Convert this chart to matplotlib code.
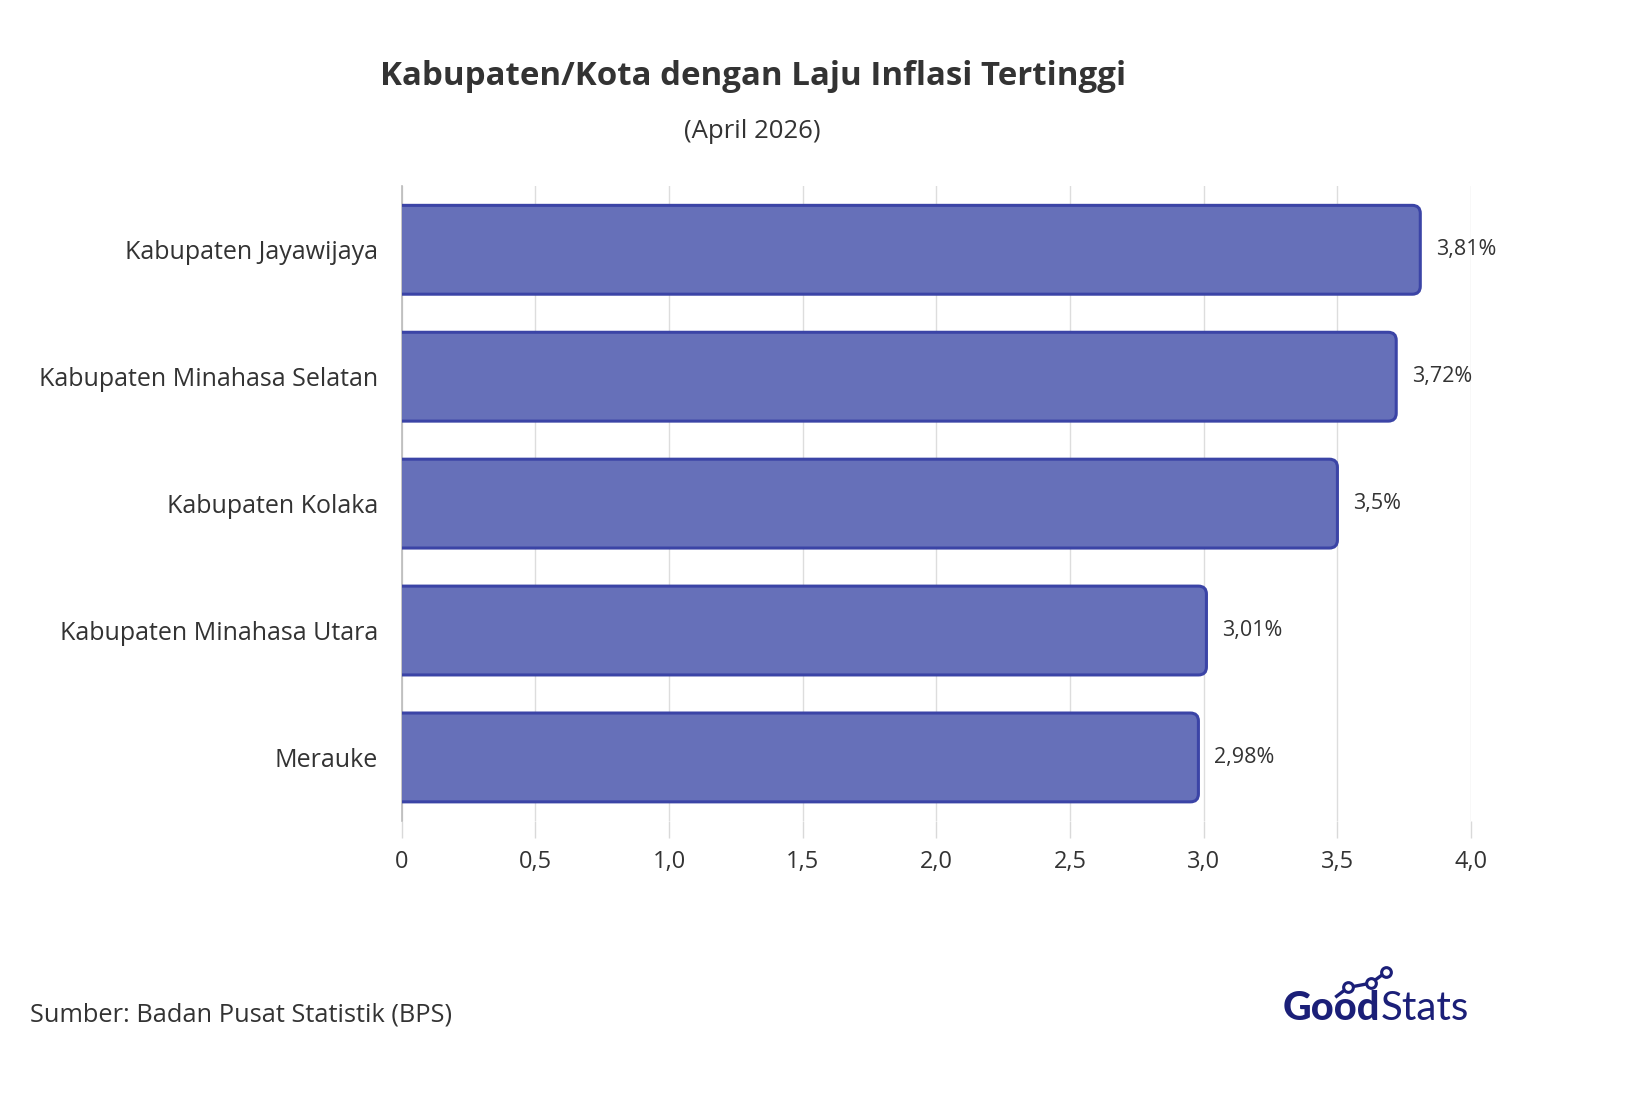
import matplotlib.pyplot as plt
from matplotlib.patches import FancyBboxPatch

plt.rcParams["font.family"] = ["Open Sans", "DejaVu Sans"]

regions = [
    "Kabupaten Jayawijaya",
    "Kabupaten Minahasa Selatan",
    "Kabupaten Kolaka",
    "Kabupaten Minahasa Utara",
    "Merauke",
]
inflation = [3.81, 3.72, 3.5, 3.01, 2.98]
value_labels = ["3,81%", "3,72%", "3,5%", "3,01%", "2,98%"]
x_ticks = [0, 0.5, 1.0, 1.5, 2.0, 2.5, 3.0, 3.5, 4.0]
x_tick_labels = ["0", "0,5", "1,0", "1,5", "2,0", "2,5", "3,0", "3,5", "4,0"]

BAR_FACE = "#6670b9"
BAR_EDGE = "#3b44a6"
TEXT = "#333333"
NAVY = "#1b1f78"

fig = plt.figure(figsize=(16.4, 10.96), dpi=100)
ax = fig.add_axes([0.245, 0.251, 0.652, 0.579])

ys = list(range(len(regions)))
bars = ax.barh(ys, inflation, height=0.7, color="none")

# redraw each bar as a rounded box
for bar in bars:
    x0, y0 = bar.get_x(), bar.get_y()
    w, h = bar.get_width(), bar.get_height()
    box = FancyBboxPatch(
        (x0 - 0.05, y0), w + 0.05, h,
        boxstyle="round,pad=0,rounding_size=0.03",
        mutation_aspect=2.09,
        facecolor=BAR_FACE, edgecolor=BAR_EDGE, linewidth=2.2, zorder=3,
    )
    ax.add_patch(box)
    bar.set_visible(False)

for y, v, lab in zip(ys, inflation, value_labels):
    ax.text(v + 0.06, y, lab, va="center", ha="left", fontsize=15.5, color=TEXT)

ax.set_xlim(0, 4.0)
ax.set_ylim(4.5, -0.5)
ax.set_xticks(x_ticks)
ax.set_xticklabels(x_tick_labels, fontsize=17, color=TEXT)
ax.set_yticks(ys)
ax.set_yticklabels(regions, fontsize=18, color=TEXT)
ax.tick_params(axis="y", length=0, pad=17)
ax.tick_params(axis="x", length=12, color="#d9d9d9", width=1, pad=9)

ax.grid(axis="x", color="#dddddd", linewidth=1, zorder=0)
ax.set_axisbelow(True)
for side in ["top", "right", "bottom"]:
    ax.spines[side].set_visible(False)
ax.spines["left"].set_color("#bbbbbb")
ax.spines["left"].set_linewidth(1.2)

fig.text(0.459, 0.930, "Kabupaten/Kota dengan Laju Inflasi Tertinggi",
         ha="center", va="center", fontsize=23.8, fontweight="bold", color=TEXT)
fig.text(0.459, 0.880, "(April 2026)", ha="center", va="center", fontsize=18.5, color=TEXT)

fig.text(0.018, 0.074, "Sumber: Badan Pusat Statistik (BPS)",
         ha="left", va="center", fontsize=18.3, color=TEXT)

# GoodStats logo
good = fig.text(0.782, 0.080, "Good", ha="left", va="center", fontsize=28.5,
                family="Lato", fontweight="black", color=NAVY)
plt.annotate("Stats", xy=(1, 0), xycoords=good, xytext=(0.5, 0), textcoords="offset points",
             ha="left", va="bottom", fontsize=29, family="Lato", fontweight="normal",
             color=NAVY, annotation_clip=False)
fig.add_artist(plt.Line2D([0.815, 0.822, 0.836, 0.845], [0.091, 0.099, 0.103, 0.113],
                          transform=fig.transFigure, color=NAVY, linewidth=2.4,
                          marker="o", markersize=7, markerfacecolor="white",
                          markeredgecolor=NAVY, markeredgewidth=2.2, markevery=[1, 2, 3]))

fig.savefig("out.png", dpi=100, facecolor="white")
